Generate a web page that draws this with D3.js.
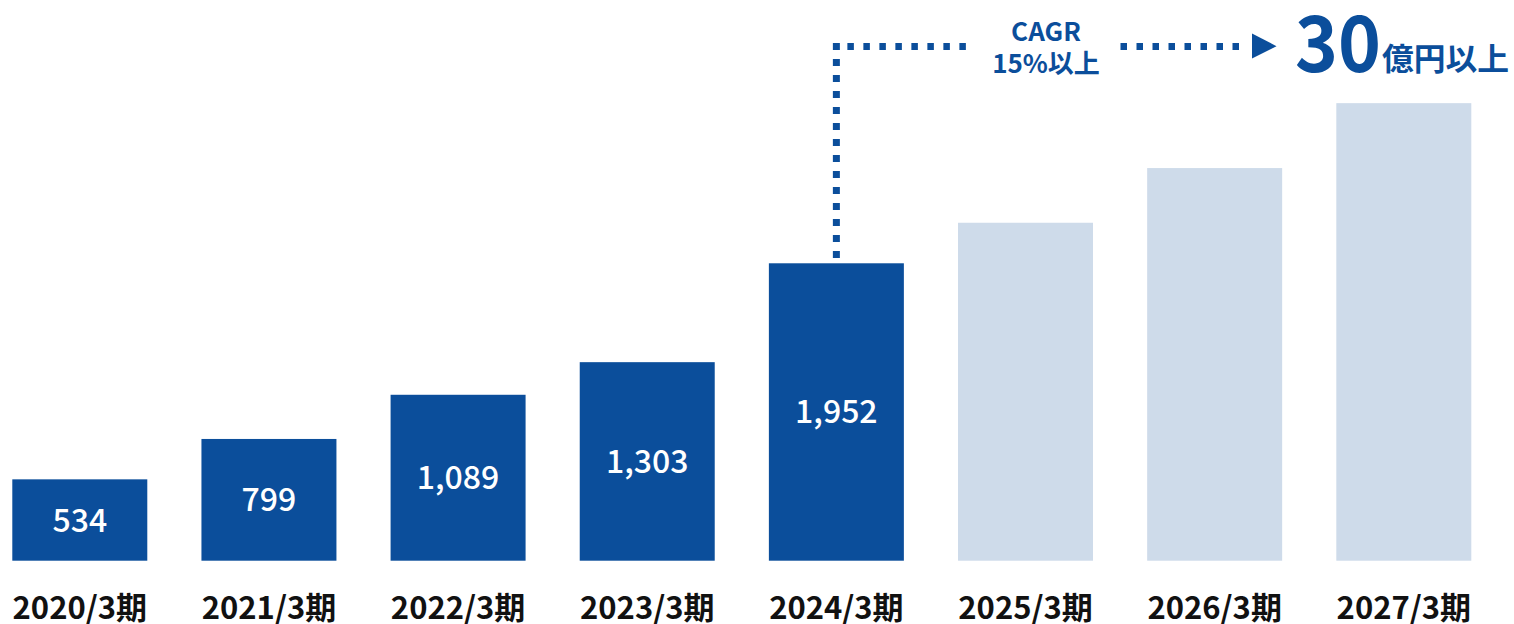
<!DOCTYPE html>
<html>
<head>
<meta charset="utf-8">
<script src="https://cdn.jsdelivr.net/npm/d3@7"></script>
<style>
  html, body { margin: 0; padding: 0; background: #fff; }
  svg { display: block; font-family: "Noto Sans CJK JP", "Noto Sans", sans-serif; }
</style>
</head>
<body>
<svg id="chart" width="1514" height="624"></svg>
<script>
const categories = ["2020/3期", "2021/3期", "2022/3期", "2023/3期", "2024/3期", "2025/3期", "2026/3期", "2027/3期"];
const values = [534, 799, 1089, 1303, 1952, 2218, 2577, 3003];
const isPlan = [false, false, false, false, false, true, true, true];
const valueLabels = ["534", "799", "1,089", "1,303", "1,952", "", "", ""];
const cagrLines = ["CAGR", "15%以上"];
const targetNumber = "30";
const targetUnit = "億円以上";
const annotatedCategory = "2024/3期";

const W = 1514, H = 624;
const DARK = "#0b4e9b", LIGHT = "#cedbea";
const svg = d3.select("#chart");

const x = d3.scaleBand().domain(categories).range([12.3, 1471.3]).paddingInner(0.2863).paddingOuter(0);
const y = d3.scaleLinear().domain([0, 3680]).range([560.7, 0]);

const data = categories.map((c, i) => ({ c, v: values[i], plan: isPlan[i], label: valueLabels[i] }));

svg.append("g").selectAll("rect").data(data).join("rect")
  .attr("x", d => x(d.c))
  .attr("y", d => y(d.v))
  .attr("width", x.bandwidth())
  .attr("height", d => y(0) - y(d.v))
  .attr("fill", d => d.plan ? LIGHT : DARK);

// value labels
svg.append("g").selectAll("text").data(data.filter(d => d.label)).join("text")
  .attr("x", d => x(d.c) + x.bandwidth() / 2)
  .attr("y", d => (y(d.v) + y(0)) / 2 + 11.5)
  .attr("text-anchor", "middle")
  .attr("fill", "#fff")
  .attr("font-size", 32)
  .attr("font-weight", 500)
  .text(d => d.label);

// category labels (axis)
const axis = d3.axisBottom(x).tickSize(0).tickPadding(0);
const gAxis = svg.append("g").attr("transform", `translate(0,${y(0)})`).call(axis);
gAxis.select(".domain").remove();
gAxis.selectAll("text")
  .attr("y", 58.8)
  .attr("dy", null)
  .attr("fill", "#111")
  .attr("font-size", 31)
  .attr("font-weight", 700)
  .attr("font-family", "\"Noto Sans CJK JP\", sans-serif");

// dotted annotation
const cx = x(annotatedCategory) + x.bandwidth() / 2;
const topY = 46.5;
const ann = svg.append("g").attr("stroke", DARK).attr("stroke-width", 7).attr("fill", "none");
ann.append("line")
  .attr("x1", cx).attr("x2", cx)
  .attr("y1", topY - 3.5).attr("y2", y(values[categories.indexOf(annotatedCategory)]))
  .attr("stroke-dasharray", "7,9");
ann.append("line")
  .attr("x1", cx + 11).attr("x2", 966)
  .attr("y1", topY).attr("y2", topY)
  .attr("stroke-dasharray", "6.5,9.5");
ann.append("line")
  .attr("x1", 1120.5).attr("x2", 1240)
  .attr("y1", topY).attr("y2", topY)
  .attr("stroke-dasharray", "6.5,9.5");
svg.append("path")
  .attr("d", d3.line()([[1252, 33.5], [1276.5, 46.2], [1252, 58.5]]) + "Z")
  .attr("fill", DARK);

// CAGR text
svg.append("g").selectAll("text").data(cagrLines).join("text")
  .attr("x", 1046)
  .attr("y", (d, i) => 41 + i * 32)
  .attr("text-anchor", "middle")
  .attr("fill", DARK)
  .attr("font-size", 26)
  .attr("font-weight", 700)
  .text(d => d);

// target text
svg.append("text")
  .attr("x", 1295)
  .attr("y", 72)
  .attr("fill", DARK)
  .attr("font-weight", 700)
  .attr("font-size", 78)
  .attr("textLength", 86)
  .attr("lengthAdjust", "spacingAndGlyphs")
  .text(targetNumber);
svg.append("text")
  .attr("x", 1382)
  .attr("y", 70)
  .attr("fill", DARK)
  .attr("font-weight", 700)
  .attr("font-size", 31)
  .attr("textLength", 127)
  .attr("lengthAdjust", "spacingAndGlyphs")
  .text(targetUnit);
</script>
</body>
</html>
